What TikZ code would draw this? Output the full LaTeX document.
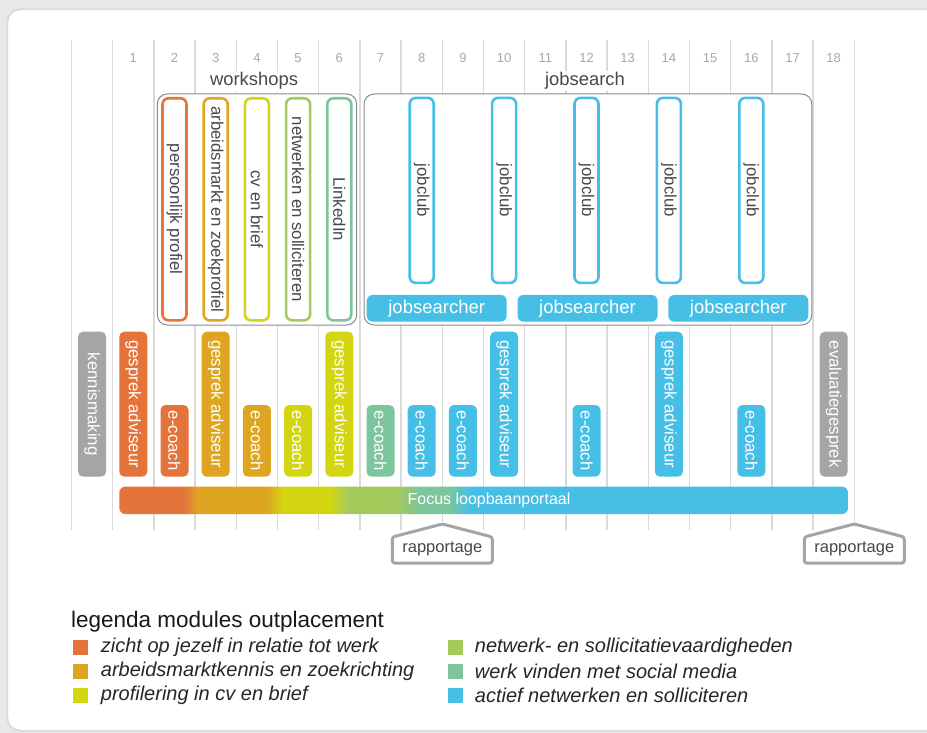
\documentclass[tikz,border=0pt]{standalone}
\usepackage{fontspec}
\setmainfont{Liberation Sans}
\usepackage{xcolor}
\usetikzlibrary{positioning}

\definecolor{oranje}{HTML}{E5743B}
\definecolor{amber}{HTML}{DDA522}
\definecolor{geel}{HTML}{D3D510}
\definecolor{groen}{HTML}{A5CA5C}
\definecolor{teal}{HTML}{7DC59C}
\definecolor{blauw}{HTML}{46BFE7}
\definecolor{grijs}{HTML}{A5A5A5}
\definecolor{lijn}{HTML}{DADADA}
\definecolor{nummer}{HTML}{A8A8A8}
\definecolor{tekst}{HTML}{484848}
\definecolor{rand}{HTML}{8C8C8C}

\begin{document}
\begin{tikzpicture}[x=1pt,y=-1pt,
    grid line/.style={draw=lijn,line width=1.4pt},
    colnum/.style={font=\fontsize{13}{13}\selectfont,text=nummer},
    kop/.style={font=\fontsize{18.4}{18}\selectfont,text=tekst,fill=white,inner sep=1pt},
    group box/.style={draw=rand,line width=1pt,fill=white,rounded corners=10pt,inner sep=0pt},
    workshop/.style={draw=#1,line width=2.6pt,rounded corners=6pt,rotate=-90,
      minimum width=222pt,minimum height=24pt,inner sep=0pt,
      font=\fontsize{16.8}{17}\selectfont,text=tekst},
    searcher/.style={fill=blauw,rounded corners=6pt,minimum width=140pt,minimum height=26.7pt,
      inner sep=0pt,text=white,font=\fontsize{18.5}{18}\selectfont},
    talk/.style={fill=#1,text=white,rounded corners=5pt,rotate=-90,minimum width=145pt,
      minimum height=28pt,inner sep=0pt,font=\fontsize{16.8}{17}\selectfont},
    coach/.style={talk=#1,minimum width=71.7pt},
    rap/.style={draw=grijs,line width=3pt,fill=white,rounded corners=2.5pt},
    raptext/.style={font=\fontsize{16.5}{16}\selectfont,text=tekst,inner sep=0pt},
    legsq/.style={fill=#1,minimum width=15pt,minimum height=15pt,inner sep=0pt},
    legtext/.style={font=\fontsize{20}{20}\selectfont\itshape,text=black!85,inner sep=0pt}]

  \useasboundingbox (0,0) rectangle (927,733);

  % panel
  \fill[black!9] (0,0) rectangle (927,733);
  \draw[black!14,line width=3pt,rounded corners=12pt] (8,10) rectangle (960,730);
  \draw[black!20,fill=white,rounded corners=12pt] (8,10) rectangle (960,730);

  % weeks
  \foreach \k in {0,...,19}
    \draw[grid line] ({71.5+41.2*\k},40) -- ({71.5+41.2*\k},530);
  \foreach \i in {1,...,18}
    \node[colnum] (n\i) at ({92.1+41.2*\i},57.7) {\i};

  % workshops and jobsearch
  \node[kop] (ws) at (254,81) {workshops};
  \node[kop] (js) at (585,81) {jobsearch};
  \node[group box,minimum width=199.4pt,minimum height=231pt] (wsbox) at (257,209.5) {};
  \node[group box,minimum width=447.7pt,minimum height=231pt] (jsbox) at (587.9,209.5) {};

  \node[workshop=oranje] (w2) at ({92.1+41.2*2},209.3) {persoonlijk profiel};
  \node[workshop=amber] (w3) at ({92.1+41.2*3},209.3) {arbeidsmarkt en zoekprofiel};
  \node[workshop=geel] (w4) at ({92.1+41.2*4},209.3) {cv en brief};
  \node[workshop=groen] (w5) at ({92.1+41.2*5},209.3) {netwerken en solliciteren};
  \node[workshop=teal] (w6) at ({92.1+41.2*6},209.3) {LinkedIn};

  \foreach \c in {8,10,12,14,16}
    \node[workshop=blauw,minimum width=185pt] (jc\c) at ({92.1+41.2*\c},190.4) {jobclub};

  \node[searcher] (jsr1) at (436.7,308.3) {jobsearcher};
  \node[searcher] (jsr2) at (587.5,308.3) {jobsearcher};
  \node[searcher] (jsr3) at (738.3,308.3) {jobsearcher};

  % gesprekken
  \node[talk=grijs] (k0) at (92.1,404.2) {kennismaking};
  \foreach \c/\kl in {1/oranje,3/amber,6/geel,10/blauw,14/blauw}
    \node[talk=\kl] (g\c) at ({92.1+41.2*\c},404.2) {gesprek adviseur};
  \foreach \c/\kl in {2/oranje,4/amber,5/geel,7/teal,8/blauw,9/blauw,12/blauw,16/blauw}
    \node[coach=\kl] (e\c) at ({92.1+41.2*\c},440.85) {e-coach};
  \node[talk=grijs] (ev18) at ({92.1+41.2*18},404.2) {evaluatiegesprek};

  % portaal
  \begin{scope}
    \clip[rounded corners=6pt] (119.3,486.7) rectangle (848,514);
    \fill[oranje] (118,486) rectangle (184,515);
    \shade[left color=oranje,right color=amber] (184,486) rectangle (198,515);
    \fill[amber] (198,486) rectangle (266,515);
    \shade[left color=amber,right color=geel] (266,486) rectangle (284,515);
    \fill[geel] (284,486) rectangle (330,515);
    \shade[left color=geel,right color=groen] (330,486) rectangle (348,515);
    \fill[groen] (348,486) rectangle (395,515);
    \shade[left color=groen,right color=teal] (395,486) rectangle (420,515);
    \fill[teal] (420,486) rectangle (448,515);
    \shade[left color=teal,right color=blauw] (448,486) rectangle (470,515);
    \fill[blauw] (470,486) rectangle (849,515);
  \end{scope}
  \node[font=\fontsize{16}{16}\selectfont,text=white] (focus) at (489,500.3) {Focus loopbaanportaal};

  % rapportage
  \foreach \x/\r in {442.3/9,854.3/19}{
    \draw[rap] ({\x-50},537) -- (\x,524) -- ({\x+50},537) -- ({\x+50},563) -- ({\x-50},563) -- cycle;
    \node[raptext] (rap\r) at (\x,549) {rapportage};
  }

  % legenda
  \node[anchor=west,inner sep=0pt,font=\fontsize{22.5}{22}\selectfont,text=black!90] (legtitle) at (71,622) {legenda modules outplacement};
  \node[legsq=oranje] (l1) at (80,647) {};
  \node[legsq=amber] (l2) at (80,671) {};
  \node[legsq=geel] (l3) at (80,695) {};
  \node[legsq=groen] (l4) at (455,647) {};
  \node[legsq=teal] (l5) at (455,671) {};
  \node[legsq=blauw] (l6) at (455,695) {};
  \node[legtext,right=13pt of l1] (t1) {zicht op jezelf in relatie tot werk};
  \node[legtext,right=13pt of l2] (t2) {arbeidsmarktkennis en zoekrichting};
  \node[legtext,right=13pt of l3] (t3) {profilering in cv en brief};
  \node[legtext,right=12pt of l4] (t4) {netwerk- en sollicitatievaardigheden};
  \node[legtext,right=12pt of l5] (t5) {werk vinden met social media};
  \node[legtext,right=12pt of l6] (t6) {actief netwerken en solliciteren};
\end{tikzpicture}
\end{document}
